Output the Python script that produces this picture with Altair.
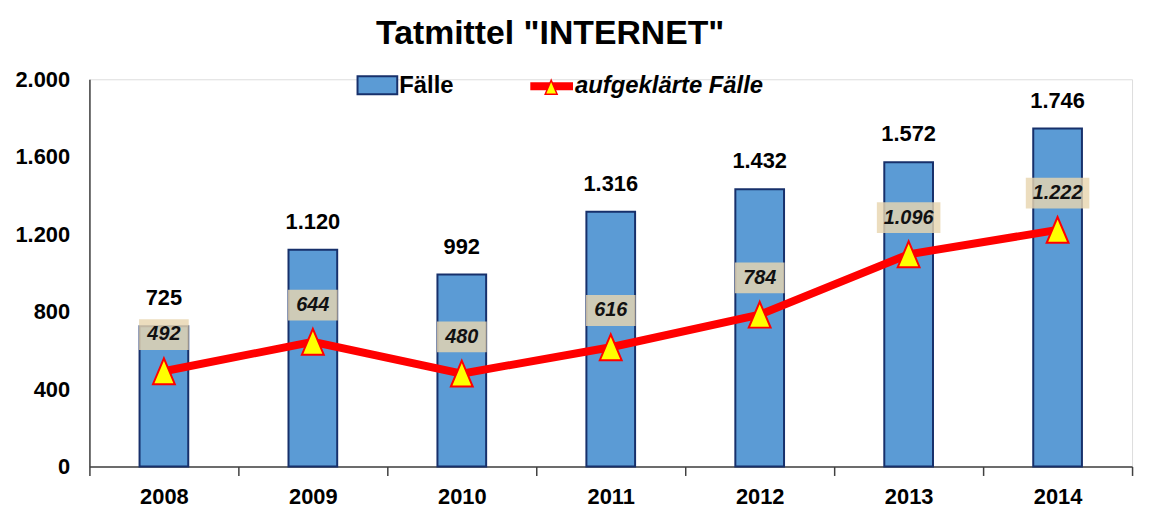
import altair as alt
import pandas as pd

years = ["2008", "2009", "2010", "2011", "2012", "2013", "2014"]
faelle = [725, 1120, 992, 1316, 1432, 1572, 1746]
aufgeklaert = [492, 644, 480, 616, 784, 1096, 1222]
y_ticks = [0, 400, 800, 1200, 1600, 2000]
title_text = 'Tatmittel "INTERNET"'
legend_labels = ["Fälle", "aufgeklärte Fälle"]

df = pd.DataFrame({"Jahr": years, "Faelle": faelle, "Aufgeklaert": aufgeklaert})

FONT = "Liberation Sans"
FMT = "replace(format(datum.{f}, ','), ',', '.')"

# label-box shapes (custom symbol paths, drawn at size=4 so units are pixels)
box3 = "M-25,-15.5L25,-15.5L25,15.5L-25,15.5Z"
box5 = "M-32,-15.5L32,-15.5L32,15.5L-32,15.5Z"
tri = "M0,-13L-11,13L11,13Z"
tri_small = "M0,-7L-6,7L6,7Z"

x = alt.X(
    "Jahr:N",
    scale=alt.Scale(paddingInner=0, paddingOuter=0),
    axis=alt.Axis(
        title=None, labelAngle=0, labelFont=FONT, labelFontSize=22,
        labelFontWeight="bold", labelColor="black", ticks=True,
        tickBand="extent", tickSize=9, tickColor="#404040",
        domainColor="#404040", domainWidth=1.5, tickWidth=1.5, labelPadding=11,
    ),
)
yscale = alt.Scale(domain=[0, 2000], nice=False)
yaxis = alt.Axis(
    values=y_ticks, title=None, grid=False, ticks=False,
    labelFont=FONT, labelFontSize=22, labelFontWeight="bold", labelColor="black",
    labelExpr="replace(format(datum.value, ','), ',', '.')",
    labelPadding=20, domainColor="#404040", domainWidth=1.5,
)

base = alt.Chart(df).transform_calculate(
    lblF=FMT.format(f="Faelle"),
    lblA=FMT.format(f="Aufgeklaert"),
).transform_calculate(
    nch="'' + length(datum.lblA)"
)

bars = base.mark_bar(
    width=alt.RelativeBandSize(0.327), color="#5B9BD5", stroke="#17306B", strokeWidth=2
).encode(x=x, y=alt.Y("Faelle:Q", scale=yscale, axis=yaxis))

bar_labels = base.mark_text(
    baseline="bottom", dy=-16, font=FONT, fontSize=22, fontWeight="bold", color="black"
).encode(x=x, y=alt.Y("Faelle:Q", scale=yscale), text="lblF:N")

line = base.mark_line(color="#FF0000", strokeWidth=8).encode(
    x=x, y=alt.Y("Aufgeklaert:Q", scale=yscale)
)

points = base.mark_point(
    shape=tri, size=4, filled=True, fill="#FFFF00", stroke="#FF0000",
    strokeWidth=2, opacity=1,
).encode(x=x, y=alt.Y("Aufgeklaert:Q", scale=yscale))

boxes = base.mark_point(
    size=4, filled=True, fill="#E8D5B0", fillOpacity=0.82, strokeWidth=0, yOffset=-37,
).encode(
    x=x, y=alt.Y("Aufgeklaert:Q", scale=yscale),
    shape=alt.Shape("nch:N", scale=alt.Scale(domain=["3", "5"], range=[box3, box5]), legend=None),
)

line_labels = base.mark_text(
    baseline="middle", dy=-37, font=FONT, fontSize=20, fontWeight="bold",
    fontStyle="italic", color="#111111",
).encode(x=x, y=alt.Y("Aufgeklaert:Q", scale=yscale), text="lblA:N")

# title and manual legend
ttl = pd.DataFrame({"t": [title_text]})
title_mark = alt.Chart(ttl).mark_text(
    align="center", baseline="alphabetic", font=FONT, fontSize=34,
    fontWeight="bold", color="black",
).encode(x=alt.value(464), y=alt.value(-36), text="t:N")

leg1 = pd.DataFrame({"t": [legend_labels[0]]})
leg2 = pd.DataFrame({"t": [legend_labels[1]]})
leg_rect = alt.Chart(leg1).mark_rect(
    color="#5B9BD5", stroke="#17306B", strokeWidth=2
).encode(x=alt.value(270), x2=alt.value(310), y=alt.value(-3), y2=alt.value(15))
leg_text1 = alt.Chart(leg1).mark_text(
    align="left", baseline="middle", font=FONT, fontSize=24, fontWeight="bold", color="black"
).encode(x=alt.value(312), y=alt.value(7), text="t:N")
leg_line = alt.Chart(leg2).mark_rule(color="#FF0000", strokeWidth=8).encode(
    x=alt.value(444), x2=alt.value(487), y=alt.value(7)
)
leg_tri = alt.Chart(leg2).mark_point(
    shape=tri_small, size=4, filled=True, fill="#FFFF00", stroke="#FF0000",
    strokeWidth=1.5, opacity=1,
).encode(x=alt.value(465), y=alt.value(8))
leg_text2 = alt.Chart(leg2).mark_text(
    align="left", baseline="middle", font=FONT, fontSize=24, fontWeight="bold",
    fontStyle="italic", color="black"
).encode(x=alt.value(489), y=alt.value(7), text="t:N")

chart = alt.layer(
    bars, bar_labels, line, points, boxes, line_labels, title_mark,
    leg_rect, leg_text1, leg_line, leg_tri, leg_text2,
).properties(
    width=1050,
    height=390,
    autosize=alt.AutoSizeParams(type="none"),
    padding={"left": 82, "top": 70, "right": 9, "bottom": 40},
).configure_view(stroke=None).configure(background="white")

chart.save("out.html", embed_options={"renderer": "svg", "actions": False})
